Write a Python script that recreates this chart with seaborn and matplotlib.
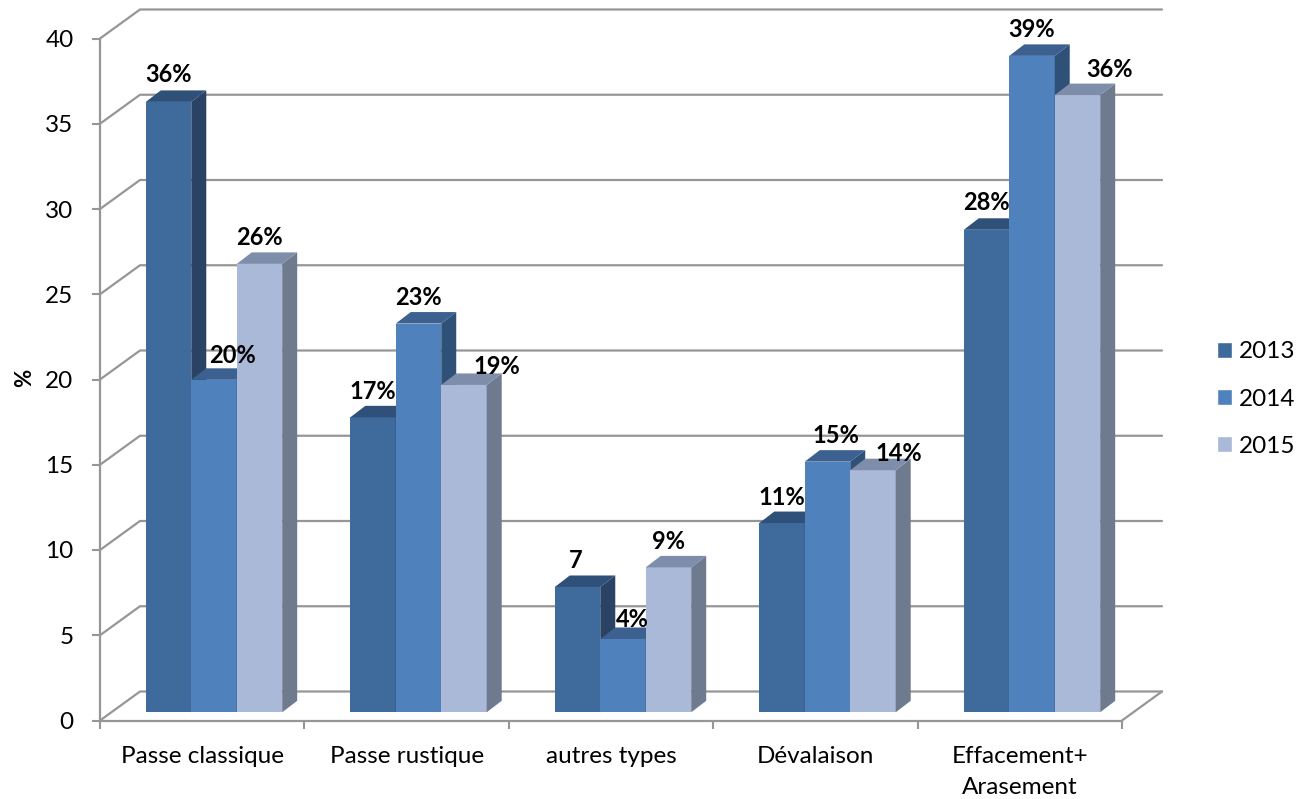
import matplotlib
matplotlib.use("Agg")
import matplotlib.pyplot as plt
from matplotlib.patches import Polygon, Patch
import pandas as pd
import seaborn as sns

categories = ["Passe classique", "Passe rustique", "autres types", "Dévalaison", "Effacement+\nArasement"]
years = ["2013", "2014", "2015"]
val_2013 = [35.8, 17.3, 7.35, 11.1, 28.3]
val_2014 = [19.5, 22.8, 4.3, 14.7, 38.5]
val_2015 = [26.3, 19.2, 8.5, 14.2, 36.2]
lab_2013 = ["36%", "17%", "7", "11%", "28%"]
lab_2014 = ["20%", "23%", "4%", "15%", "39%"]
lab_2015 = ["26%", "19%", "9%", "14%", "36%"]
yticks = list(range(0, 45, 5))

# couleurs: face, dessus, cote
face = ["#3F6A9C", "#4F81BD", "#AAB9D7"]
top = ["#2F5079", "#3C6090", "#7E8DAA"]
side = ["#2A4365", "#2F5077", "#6E7A8E"]
grid = "#969696"

W, H = 1297, 799
sns.set_style("white", {"text.color": "black", "axes.labelcolor": "black"})
plt.rcParams["font.family"] = ["Lato", "DejaVu Sans"]

df = pd.DataFrame({
    "cat": categories * 3,
    "year": [y for y in years for _ in categories],
    "val": val_2013 + val_2014 + val_2015,
})

fig = plt.figure(figsize=(W / 100, H / 100), dpi=100)

# plan avant (axes) et plan des barres
ax = fig.add_axes([100 / W, 1 - 720.5 / H, 1022 / W, 682 / H])
bx = fig.add_axes([111.75 / W, 1 - 712.3 / H, 1022.5 / W, 682 / H])
bx.patch.set_alpha(0)

ax.set_xlim(0, 5)
ax.set_ylim(0, 40)
ax.set_xticks(range(6))
ax.set_xticklabels([])
ax.set_yticks(yticks)
ax.tick_params(axis="y", length=6, width=1.5, color=grid, labelcolor="black", labelsize=17.5, pad=13, left=True)
ax.tick_params(axis="x", length=6, width=1.5, color=grid, bottom=True)
for s in ["top", "right"]:
    ax.spines[s].set_visible(False)
for s in ["left", "bottom"]:
    ax.spines[s].set_color(grid)
    ax.spines[s].set_linewidth(1.6)
for i, c in enumerate(categories):
    ax.annotate(c, (i + 0.5, 0), xytext=(0, -18.5), textcoords="offset points",
                ha="center", va="top", fontsize=17.5, linespacing=1.6, annotation_clip=False)

# parois: diagonale et ligne de fond pour chaque graduation
dx, dy = 40 / 204.4, 29 / 17.05
for v in yticks:
    ax.plot([0, dx, 5 + dx], [v, v + dy, v + dy], color=grid, lw=1.6, clip_on=False, zorder=1)
ax.plot([5, 5 + dx], [0, dy], color=grid, lw=1.6, clip_on=False, zorder=1)

ax.set_ylabel("%", fontsize=16, fontweight="bold")
ax.yaxis.set_label_coords((35 - 100) / 1022, (720.5 - 378) / 682)

# barres
sns.barplot(data=df, x="cat", y="val", hue="year", order=categories, hue_order=years,
            palette=face, width=0.667, saturation=1, legend=False, ax=bx, linewidth=0)
bx.set_xlim(-0.5, 4.5)
bx.set_ylim(0, 40)
bx.axis("off")

# profondeur des barres
px, py = 15 / 204.5, 11.5 / 17.05
labels = lab_2013 + lab_2014 + lab_2015
off_x = [0, 0, -2, 0, 0, 18, 0, 9, 8, 0, 0, 33, 0, 26, 32]
off_y = [-27, -26, -26, -26, -27, -24, -26, -19, -26, -26, -26, -18, -26, -17, -26]
order = []
for k, cont in enumerate(bx.containers):
    for i, b in enumerate(cont):
        order.append((i, k, b))
for i, k, b in sorted(order, key=lambda t: (t[0], t[1])):
    z = 3 + (i * 3 + k) * 0.1
    x0, x1, h = b.get_x(), b.get_x() + b.get_width(), b.get_height()
    b.set_zorder(z)
    bx.add_patch(Polygon([(x1, 0), (x1 + px, py), (x1 + px, h + py), (x1, h)], fc=side[k], ec="none", zorder=z, clip_on=False))
    bx.add_patch(Polygon([(x0, h), (x0 + px, h + py), (x1 + px, h + py), (x1, h)], fc=top[k], ec="none", zorder=z, clip_on=False))
    n = k * 5 + i
    bx.annotate(labels[n], ((x0 + x1) / 2, h), xytext=(off_x[n] * 0.72, -off_y[n] * 0.72),
                textcoords="offset points", ha="center", va="center", fontsize=17,
                fontweight="bold", zorder=20, annotation_clip=False)

handles = [Patch(fc=face[k], label=years[k]) for k in range(3)]
fig.legend(handles=handles, loc="center left", bbox_to_anchor=(1217 / W, 1 - 399 / H), frameon=False,
           fontsize=17.5, handlelength=0.62, handleheight=0.62, handletextpad=0.29, labelspacing=1.08,
           borderpad=0, borderaxespad=0)

fig.savefig("out.png", dpi=100)
